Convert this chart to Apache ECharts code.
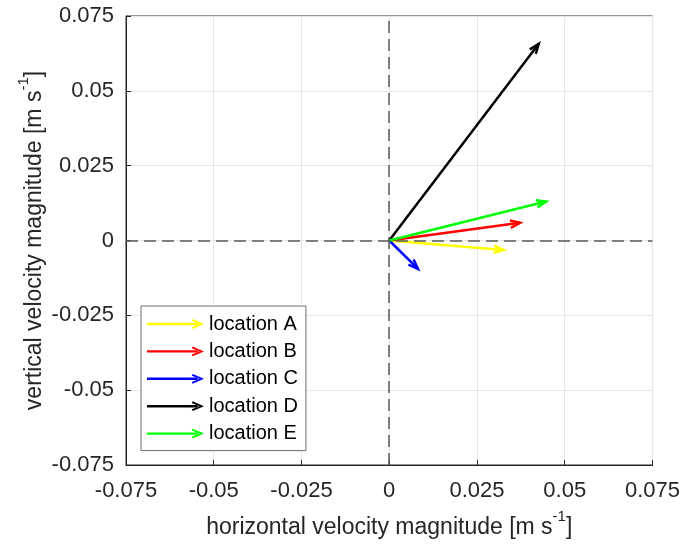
<!DOCTYPE html>
<html>
<head>
<meta charset="utf-8">
<script src="https://cdn.jsdelivr.net/npm/echarts@6/dist/echarts.min.js"></script>
<style>
  html, body { margin: 0; padding: 0; background: #fff; }
  #chart { width: 683px; height: 544px; }
</style>
</head>
<body>
<div id="chart"></div>
<script>
// Velocity vectors (u, v) in m/s for each measuring location
const locations = ['location A', 'location B', 'location C', 'location D', 'location E'];
const uValues = [0.0326, 0.0373, 0.0082, 0.0426, 0.0447];
const vValues = [-0.0032, 0.0059, -0.0095, 0.0657, 0.0130];
const arrowColors = ['#ffff00', '#ff0000', '#0000ff', '#000000', '#00ff00'];

// Shared tick positions for both axes
const tickValues = [-0.075, -0.05, -0.025, 0, 0.025, 0.05, 0.075];

const FONT = '"Liberation Sans", Arial, Helvetica, sans-serif';
const INK = '#262626';

// Legend glyph: shaft plus chevron head, drawn as filled outline
const arrowIcon = 'path://M0,3.8 L52,3.8 L52,6.2 L0,6.2 Z M58,5 L46.5,0 L45.5,1.8 L53.5,5 L45.5,8.2 L46.5,10 Z';

function renderArrow(params, api) {
  const o = api.coord([0, 0]);
  const t = api.coord([api.value(0), api.value(1)]);
  const ang = Math.atan2(t[1] - o[1], t[0] - o[0]);
  const headLen = 10.5;
  const spread = 0.36;
  const p1 = [t[0] - headLen * Math.cos(ang - spread), t[1] - headLen * Math.sin(ang - spread)];
  const p2 = [t[0] - headLen * Math.cos(ang + spread), t[1] - headLen * Math.sin(ang + spread)];
  const color = api.visual('color');
  return {
    type: 'group',
    children: [
      {
        type: 'line',
        shape: { x1: o[0], y1: o[1], x2: t[0], y2: t[1] },
        style: { stroke: color, lineWidth: 2.5, lineCap: 'butt' }
      },
      {
        type: 'polyline',
        shape: { points: [p1, t, p2] },
        style: { stroke: color, fill: null, lineWidth: 2.5, lineJoin: 'miter' }
      }
    ]
  };
}

function axisName(text) {
  return '{a|' + text + ' [m s}{b|-1}{a|]}';
}
const nameRich = {
  a: { fontSize: 23, fontFamily: FONT, color: INK, lineHeight: 30, verticalAlign: 'bottom' },
  b: { fontSize: 15, fontFamily: FONT, color: INK, lineHeight: 30, verticalAlign: 'top' }
};

const tickMin = tickValues[0];
const tickMax = tickValues[tickValues.length - 1];
const tickStep = tickValues[1] - tickValues[0];

function valueAxis(extra) {
  return Object.assign({
    type: 'value',
    min: tickMin,
    max: tickMax,
    interval: tickStep,
    nameLocation: 'middle',
    axisLine: { show: true, onZero: false, lineStyle: { color: INK, width: 1 } },
    axisTick: { show: true, inside: true, length: 5, lineStyle: { color: INK } },
    splitLine: { show: true, lineStyle: { color: '#e6e6e6', width: 1 } },
    axisLabel: { color: INK, fontSize: 22, fontFamily: FONT, formatter: v => String(+v.toFixed(3)) }
  }, extra);
}

const series = locations.map((name, i) => ({
  name: name,
  type: 'custom',
  color: arrowColors[i],
  renderItem: renderArrow,
  encode: { x: 0, y: 1 },
  data: [[uValues[i], vValues[i]]],
  z: 3
}));

// Dashed reference lines through the origin
series.unshift({
  name: 'zero',
  type: 'line',
  data: [],
  z: 2,
  markLine: {
    silent: true,
    symbol: 'none',
    label: { show: false },
    lineStyle: { color: '#595959', width: 1.5, type: [12, 6] },
    data: [{ xAxis: 0 }, { yAxis: 0 }]
  }
});

const chart = echarts.init(document.getElementById('chart'), null, { renderer: 'canvas' });
chart.setOption({
  animation: false,
  backgroundColor: '#ffffff',
  grid: {
    left: 126, right: 30, top: 16, bottom: 79,
    show: true, borderColor: INK, borderWidth: 1, backgroundColor: 'transparent'
  },
  xAxis: valueAxis({
    name: axisName('horizontal velocity magnitude'),
    nameGap: 44,
    nameTextStyle: { rich: nameRich },
    axisLabel: { color: INK, fontSize: 22, fontFamily: FONT, margin: 15, formatter: v => String(+v.toFixed(3)) }
  }),
  yAxis: valueAxis({
    name: axisName('vertical velocity magnitude'),
    nameGap: 80,
    nameMoveOverlap: false,
    nameTextStyle: { rich: nameRich },
    axisLabel: { color: INK, fontSize: 22, fontFamily: FONT, margin: 12, formatter: v => String(+v.toFixed(3)) }
  }),
  legend: {
    left: 141,
    top: 306,
    orient: 'vertical',
    data: locations.map(n => ({ name: n, icon: arrowIcon })),
    itemWidth: 57,
    itemHeight: 10,
    itemGap: 7.4,
    padding: [8, 8, 7, 6],
    backgroundColor: '#ffffff',
    borderColor: '#6e6e6e',
    borderWidth: 1,
    borderRadius: 0,
    selectedMode: false,
    textStyle: { color: '#000000', fontSize: 20, fontFamily: FONT, lineHeight: 20 }
  },
  series: series
});
</script>
</body>
</html>
